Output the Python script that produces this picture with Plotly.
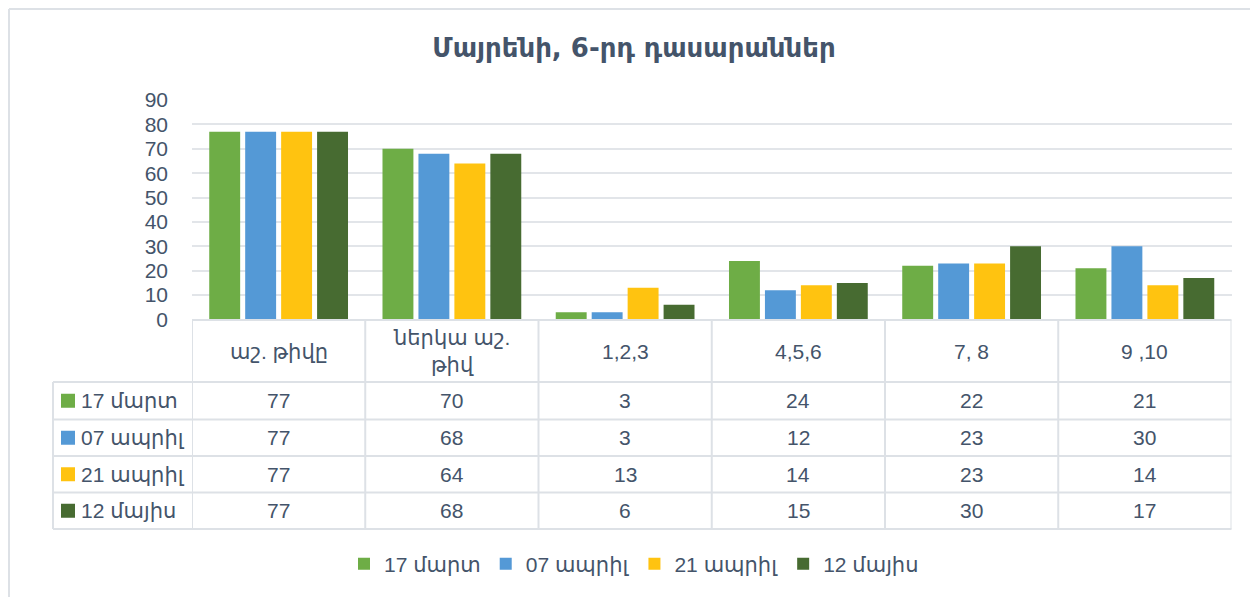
import plotly.graph_objects as go

# ---- data ----
title_text = "Մայրենի, 6-րդ դասարաններ"
categories = ["աշ. թիվը", "ներկա աշ.<br>թիվ", "1,2,3", "4,5,6", "7, 8", "9 ,10"]
series_names = ["17 մարտ", "07 ապրիլ", "21 ապրիլ", "12 մայիս"]
s_17_mart = [77, 70, 3, 24, 22, 21]
s_07_april = [77, 68, 3, 12, 23, 30]
s_21_april = [77, 64, 13, 14, 23, 14]
s_12_mayis = [77, 68, 6, 15, 30, 17]
y_ticks = [0, 10, 20, 30, 40, 50, 60, 70, 80, 90]

series_values = [s_17_mart, s_07_april, s_21_april, s_12_mayis]
colors = ["#6EAD46", "#5499D6", "#FFC310", "#476B31"]

W, H = 1258, 597
OFF = 8  # page body margin
TXT = "#44546A"
LINE = "#DDE1E6"
FONT = "Liberation Sans, DejaVu Sans, sans-serif"
FS = 21

def px(x):
    return (x - OFF) / W

def py(y):
    return 1 - (y - OFF) / H

fig = go.Figure()
for name, vals, col in zip(series_names, series_values, colors):
    fig.add_trace(go.Bar(
        x=list(range(len(categories))), y=vals, name=name,
        marker=dict(color=col, line=dict(width=0)),
        hoverinfo="y+name",
    ))

shapes = []
annotations = []

# chart frame (left and top edges visible)
shapes.append(dict(type="line", xref="paper", yref="paper", x0=px(9), x1=px(9), y0=py(9), y1=py(610),
                   line=dict(color=LINE, width=2)))
shapes.append(dict(type="line", xref="paper", yref="paper", x0=px(9), x1=px(1270), y0=py(9), y1=py(9),
                   line=dict(color=LINE, width=2)))

# data table lines
x_left, x_plot, x_right = 53, 192, 1231.5
y_top, y_head = 320, 382
row_edges = [382, 419.5, 456, 492.5, 529]
shapes.append(dict(type="line", xref="paper", yref="paper", x0=px(x_plot), x1=px(x_right), y0=py(y_top), y1=py(y_top),
                   line=dict(color=LINE, width=2)))
for ye in row_edges:
    shapes.append(dict(type="line", xref="paper", yref="paper", x0=px(x_left), x1=px(x_right), y0=py(ye), y1=py(ye),
                       line=dict(color=LINE, width=2)))
shapes.append(dict(type="line", xref="paper", yref="paper", x0=px(x_left), x1=px(x_left), y0=py(row_edges[0]), y1=py(row_edges[-1]),
                   line=dict(color=LINE, width=2)))
for i in range(len(categories) + 1):
    shapes.append(dict(type="line", xref="x", yref="paper", x0=i - 0.5, x1=i - 0.5, y0=py(y_top), y1=py(row_edges[-1]),
                       line=dict(color=LINE, width=2)))

# category header
for i, c in enumerate(categories):
    annotations.append(dict(x=i, xref="x", y=py((y_top + y_head) / 2), yref="paper", text=c, showarrow=False,
                            font=dict(size=FS, color=TXT, family=FONT), xanchor="center", yanchor="middle",
                            align="center"))

# rows
for r, (name, vals, col) in enumerate(zip(series_names, series_values, colors)):
    yc = (row_edges[r] + row_edges[r + 1]) / 2
    shapes.append(dict(type="rect", xref="paper", yref="paper", x0=px(61), x1=px(75), y0=py(yc + 7), y1=py(yc - 7),
                       fillcolor=col, line=dict(width=0)))
    annotations.append(dict(x=px(79), xref="paper", y=py(yc), yref="paper", text=name, showarrow=False,
                            font=dict(size=FS, color=TXT, family=FONT), xanchor="left", yanchor="middle"))
    for i, v in enumerate(vals):
        annotations.append(dict(x=i, xref="x", y=py(yc), yref="paper", text=str(v), showarrow=False,
                                font=dict(size=FS, color=TXT, family=FONT), xanchor="center", yanchor="middle"))

fig.update_layout(
    width=W, height=H, autosize=False,
    margin=dict(l=0, r=0, t=0, b=0, pad=0),
    paper_bgcolor="white", plot_bgcolor="white",
    title=dict(text="<b>" + title_text + "</b>", x=px(634), xanchor="center", y=py(48), yanchor="middle",
               font=dict(size=26, color=TXT, family="DejaVu Sans, sans-serif")),
    barmode="group", bargap=0.17, bargroupgap=0.14,
    xaxis=dict(domain=[px(x_plot), px(x_right)], range=[-0.5, len(categories) - 0.5],
               showticklabels=False, showgrid=False, zeroline=False, showline=False, ticks="",
               fixedrange=True, automargin=False),
    yaxis=dict(domain=[py(319.5), py(100)], range=[0, 90], tickvals=y_ticks,
               showgrid=True, gridcolor="#E2E5E9", gridwidth=2, zeroline=False, showline=False,
               tickfont=dict(size=FS, color=TXT, family=FONT), ticklabelstandoff=23, fixedrange=True,
               automargin=False),
    showlegend=True,
    legend=dict(orientation="h", x=px(634), xanchor="center", y=py(564), yanchor="middle",
                font=dict(size=FS, color=TXT, family=FONT), itemclick=False, itemdoubleclick=False,
                traceorder="normal"),
    shapes=shapes,
    annotations=annotations,
)

fig.write_html("out.html")
